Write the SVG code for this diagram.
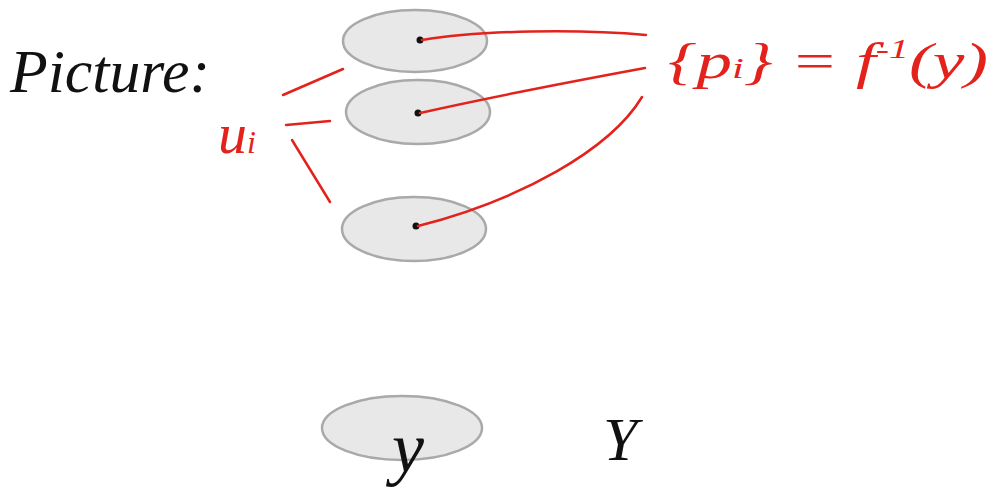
<svg xmlns="http://www.w3.org/2000/svg" width="995" height="497" viewBox="0 0 995 497">
<style>
.set{fill:#e8e8e8;stroke:#a9a9a9;stroke-width:2.5}
.red{fill:none;stroke:#e3221c;stroke-width:2.5;stroke-linecap:round}
.dot{fill:#111}
.hand{font-family:"Liberation Serif",serif;font-style:italic}
.rt{fill:#e3221c}
.bt{fill:#111}
</style>
<rect width="995" height="497" fill="#ffffff"/>
<text class="hand bt" x="10" y="92" font-size="62" textLength="200" lengthAdjust="spacingAndGlyphs">Picture:</text>
<g id="u1"><ellipse class="set" cx="415" cy="41" rx="72" ry="31"/><circle class="dot" cx="420" cy="40" r="3.5"/></g>
<g id="u2"><ellipse class="set" cx="418" cy="112" rx="72" ry="32"/><circle class="dot" cx="418" cy="113" r="3.5"/></g>
<g id="u3"><ellipse class="set" cx="414" cy="229" rx="72" ry="32"/><circle class="dot" cx="416" cy="226" r="3.5"/></g>
<g id="yset"><ellipse class="set" cx="402" cy="428" rx="80" ry="32"/><text class="hand bt" x="392" y="472" font-size="72">y</text></g>
<g id="Y"><text class="hand bt" x="603" y="460" font-size="62">Y</text></g>
<g id="ui"><text class="hand rt" x="218" y="153" font-size="58">u<tspan font-size="32">i</tspan></text></g>
<g id="preimage"><text class="hand rt" x="668" y="78" font-size="50" textLength="320" lengthAdjust="spacingAndGlyphs">{p<tspan font-size="30">i</tspan>} = f<tspan font-size="28" dy="-20">-1</tspan><tspan dy="20">(y)</tspan></text></g>
<g id="connectors">
<path class="red" d="M422 40 C480 30 580 29 646 35"/>
<path class="red" d="M420 113 C500 95 580 80 645 68"/>
<path class="red" d="M418 226 C520 200 610 150 642 97"/>
<path class="red" d="M283 95 L343 69"/>
<path class="red" d="M286 125 L330 121"/>
<path class="red" d="M292 140 L330 202"/>
</g>
</svg>
